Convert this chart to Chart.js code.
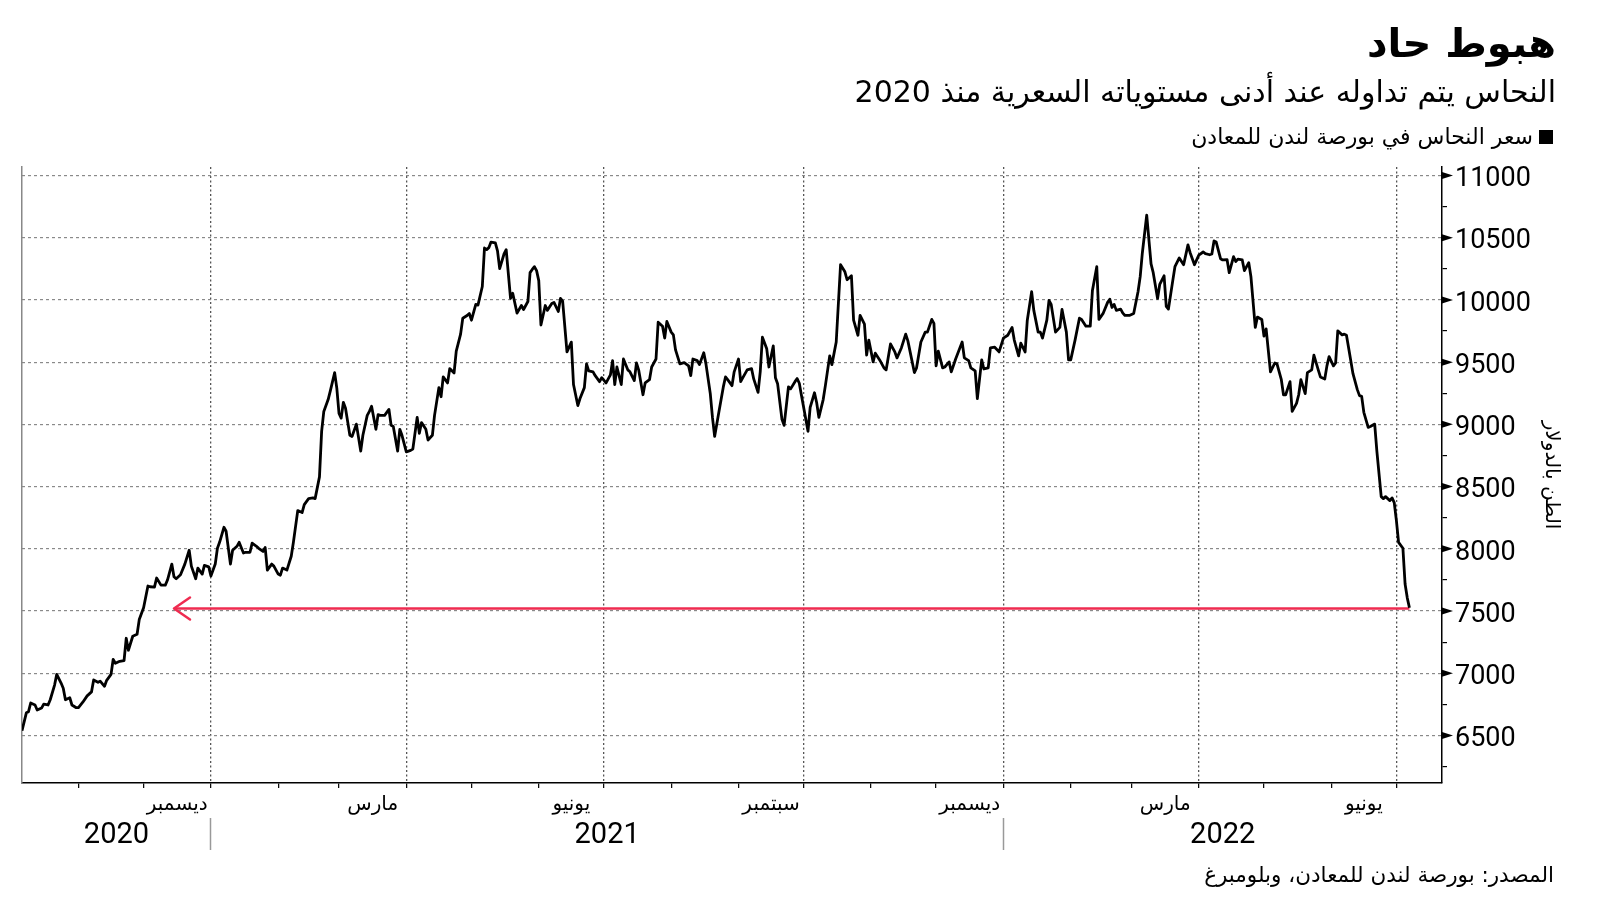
<!DOCTYPE html>
<html lang="ar">
<head>
    <meta charset="UTF-8">
    <title>هبوط حاد</title>
    <script src="https://cdn.jsdelivr.net/npm/chart.js"></script>
    <style>
        body { margin: 0; background: #fff; }
        .wrap { position: relative; width: 1600px; height: 901px; overflow: hidden; }
        canvas { position: absolute; left: 0; top: 0; }
        .txt {
            position: absolute;
            direction: rtl;
            font-family: "DejaVu Sans", sans-serif;
            color: #000;
            white-space: nowrap;
        }
        #title { right: 44px; top: 18px; font-size: 40px; line-height: 50px; font-weight: bold; }
        #subtitle { right: 44px; top: 74px; font-size: 30px; line-height: 36px; }
        #legend { right: 47px; top: 124px; font-size: 22px; line-height: 26px; display: flex; align-items: center; gap: 6px; }
        #legend .sq { width: 14px; height: 14px; background: #000; display: inline-block; }
        #source { right: 46px; top: 862px; font-size: 21.5px; line-height: 26px; }
    </style>
</head>
<body>
<div class="wrap">
    <canvas id="chart" width="1600" height="901"></canvas>
    <div id="title" class="txt">هبوط حاد</div>
    <div id="subtitle" class="txt">النحاس يتم تداوله عند أدنى مستوياته السعرية منذ 2020</div>
    <div id="legend" class="txt"><span class="sq"></span><span>سعر النحاس في بورصة لندن للمعادن</span></div>
    <div id="source" class="txt">المصدر: بورصة لندن للمعادن، وبلومبرغ</div>
</div>

<script>
    // days counted from 1 Jan 2021, prices in dollars per tonne
    const days = [
        -87, -85, -84, -83, -81, -80, -78, -77, -75, -74, -72, -71, -69, -68, -67, -65, -64, -62, -61, -59,
        -57, -55, -54, -52, -51, -49, -48, -46, -45, -44, -42, -40, -39, -38, -36, -34, -33, -31, -29, -28,
        -26, -25, -23, -21, -20, -18, -17, -16, -14, -12, -10, -9, -7, -6, -4, -3, -1, 0, 2, 3,
        4, 6, 7, 9, 10, 12, 13, 15, 16, 18, 19, 21, 22, 24, 25, 26, 28, 29, 31, 32,
        33, 35, 37, 38, 39, 40, 42, 43, 45, 47, 48, 50, 51, 52, 54, 55, 57, 58, 59, 60,
        61, 62, 64, 65, 67, 69, 70, 72, 73, 74, 76, 77, 78, 80, 82, 83, 84, 86, 87, 88,
        90, 92, 93, 95, 96, 97, 99, 100, 102, 103, 105, 106, 107, 109, 110, 112, 113, 115, 116, 118,
        119, 120, 122, 123, 125, 126, 127, 128, 129, 131, 132, 133, 135, 136, 138, 139, 141, 143, 144, 146,
        147, 148, 149, 150, 151, 152, 154, 155, 157, 158, 160, 161, 162, 164, 166, 167, 169, 170, 172, 173,
        174, 176, 177, 179, 180, 182, 184, 185, 186, 187, 189, 190, 192, 193, 195, 196, 197, 199, 200, 202,
        203, 205, 206, 208, 209, 210, 212, 213, 214, 216, 218, 220, 221, 222, 224, 225, 227, 228, 230, 231,
        232, 234, 236, 237, 238, 240, 241, 243, 244, 245, 247, 249, 250, 252, 253, 254, 256, 257, 259, 260,
        261, 263, 264, 266, 267, 269, 270, 271, 272, 275, 276, 278, 279, 280, 282, 283, 285, 286, 288, 290,
        292, 293, 295, 296, 298, 299, 301, 302, 303, 305, 306, 308, 310, 311, 313, 315, 316, 318, 320, 321,
        324, 325, 327, 329, 330, 332, 333, 334, 335, 337, 338, 340, 341, 343, 346, 347, 349, 350, 352, 353,
        355, 356, 358, 359, 361, 363, 365, 367, 369, 370, 372, 373, 375, 376, 378, 379, 381, 382, 383, 385,
        386, 387, 389, 391, 392, 394, 395, 396, 398, 400, 401, 403, 405, 406, 408, 409, 411, 413, 414, 415,
        416, 417, 419, 420, 421, 423, 425, 427, 428, 429, 431, 433, 434, 436, 437, 439, 440, 441, 443, 444,
        446, 448, 450, 451, 453, 455, 457, 458, 460, 461, 462, 463, 465, 466, 468, 469, 471, 472, 473, 475,
        476, 478, 479, 481, 482, 484, 485, 486, 488, 490, 491, 493, 494, 495, 497, 498, 500, 501, 502, 504,
        505, 507, 508, 510, 511, 513, 514, 515, 517, 518, 519, 521, 522, 523, 524, 526, 528, 529, 530, 531,
        533, 534, 536, 537, 539, 540, 541, 543, 544, 545, 546, 547, 549, 550, 551, 552
    ];
    const prices = [
        6538, 6682, 6691, 6761, 6745, 6704, 6720, 6752, 6745, 6787, 6905, 6991, 6921, 6879, 6787, 6803, 6745, 6723, 6723, 6767,
        6818, 6850, 6946, 6927, 6936, 6895, 6943, 6991, 7112, 7080, 7096, 7102, 7281, 7185, 7297, 7313, 7431, 7526, 7701, 7695,
        7692, 7765, 7708, 7708, 7749, 7877, 7775, 7759, 7791, 7877, 7988, 7861, 7759, 7845, 7797, 7867, 7855, 7781, 7877, 8004,
        8052, 8173, 8141, 7877, 7988, 8020, 8052, 7966, 7972, 7972, 8045, 8020, 8004, 7979, 8010, 7829, 7877, 7861, 7797, 7788,
        7845, 7829, 7940, 8052, 8180, 8307, 8291, 8355, 8403, 8409, 8403, 8578, 8944, 9104, 9199, 9269, 9416, 9289, 9088, 9050,
        9177, 9129, 8912, 8903, 9002, 8785, 8912, 9072, 9104, 9145, 8960, 9078, 9072, 9072, 9120, 8992, 8983, 8785, 8960, 8912,
        8779, 8791, 8801, 9056, 8928, 9014, 8960, 8874, 8912, 9072, 9295, 9222, 9381, 9333, 9448, 9413, 9588, 9725, 9853, 9875,
        9891, 9837, 9964, 9958, 10108, 10417, 10404, 10420, 10465, 10458, 10394, 10251, 10369, 10404, 10012, 10053, 9894, 9955, 9923, 9987,
        10219, 10245, 10267, 10235, 10155, 9798, 9955, 9916, 9971, 9980, 9907, 10012, 9990, 9582, 9661, 9320, 9151, 9208, 9295, 9486,
        9429, 9422, 9391, 9343, 9375, 9333, 9397, 9512, 9320, 9461, 9320, 9525, 9438, 9422, 9352, 9493, 9438, 9238, 9333, 9359,
        9461, 9525, 9821, 9789, 9693, 9827, 9741, 9719, 9598, 9486, 9496, 9470, 9391, 9525, 9512, 9480, 9575, 9486, 9247, 9056,
        8903, 9104, 9301, 9381, 9359, 9311, 9422, 9525, 9343, 9375, 9438, 9448, 9365, 9257, 9422, 9700, 9607, 9461, 9630, 9375,
        9327, 9040, 8992, 9301, 9285, 9343, 9368, 9330, 9231, 8944, 9136, 9254, 9174, 9056, 9199, 9311, 9550, 9480, 9662, 10283,
        10226, 10162, 10194, 9837, 9716, 9875, 9805, 9556, 9677, 9502, 9572, 9518, 9454, 9438, 9646, 9582, 9534, 9614, 9725, 9671,
        9416, 9454, 9662, 9741, 9741, 9843, 9811, 9470, 9588, 9454, 9461, 9502, 9422, 9525, 9662, 9534, 9512, 9454, 9429, 9206,
        9518, 9445, 9454, 9614, 9620, 9582, 9693, 9716, 9779, 9677, 9550, 9652, 9582, 9837, 10066, 9916, 9741, 9741, 9693, 9837,
        9996, 9964, 9741, 9779, 9923, 9741, 9518, 9518, 9677, 9853, 9843, 9789, 9789, 10076, 10267, 9843, 9894, 9980, 10006, 9939,
        9964, 9916, 9926, 9894, 9875, 9875, 9891, 10066, 10187, 10379, 10681, 10289, 10219, 10012, 10124, 10194, 9948, 9926, 10155, 10267,
        10337, 10283, 10442, 10379, 10283, 10360, 10385, 10372, 10363, 10369, 10474, 10465, 10331, 10321, 10324, 10219, 10347, 10309, 10328, 10321,
        10235, 10299, 10187, 9779, 9862, 9843, 9709, 9767, 9422, 9493, 9486, 9359, 9238, 9238, 9343, 9104, 9168, 9238, 9359, 9247,
        9416, 9438, 9556, 9438, 9381, 9365, 9470, 9544, 9470, 9493, 9751, 9719, 9725, 9716, 9614, 9407, 9279, 9231, 9225, 9097,
        8976, 8983, 9002, 8785, 8419, 8403, 8419, 8387, 8409, 8371, 8227, 8052, 8004, 7717, 7606, 7526
    ];

    // calendar marks, same day count
    const monthStarts = [-61, -31, 0, 31, 59, 90, 120, 151, 181, 212, 243, 273, 304, 334, 365, 396, 424, 455, 485, 516, 546];
    const quarterStarts = [0, 90, 181, 273, 365, 455, 546];
    const monthMids = [-15.5, 74.5, 166, 258, 349.5, 439.5, 531];
    const monthLabels = ['ديسمبر', 'مارس', 'يونيو', 'سبتمبر', 'ديسمبر', 'مارس', 'يونيو'];
    const yearMids = [-43.5, 182.5, 466];
    const yearLabels = ['2020', '2021', '2022'];
    const yearBreaks = [0, 365];

    const yMajor = [6500, 7000, 7500, 8000, 8500, 9000, 9500, 10000, 10500, 11000];
    const yMinor = [6250, 6750, 7250, 7750, 8250, 8750, 9250, 9750, 10250, 10750];

    // red marker back to the 2020 level
    const arrowLevel = 7520;
    const arrowFrom = -17;
    const arrowTo = 552;

    const xMin = -87, xMax = 567;
    const yMin = 6118, yMax = 11068;

    const arrowColor = '#ef2b50';

    const points = days.map((d, i) => ({ x: d, y: prices[i] }));

    const arrowHead = {
        id: 'arrowHead',
        afterDatasetsDraw(chart) {
            const { ctx, scales: { x, y } } = chart;
            const px = x.getPixelForValue(arrowFrom);
            const py = y.getPixelForValue(arrowLevel);
            ctx.save();
            ctx.strokeStyle = arrowColor;
            ctx.lineWidth = 2.5;
            ctx.lineCap = 'round';
            ctx.lineJoin = 'round';
            ctx.beginPath();
            ctx.moveTo(px + 16, py - 11);
            ctx.lineTo(px, py);
            ctx.lineTo(px + 16, py + 11);
            ctx.stroke();
            ctx.restore();
        }
    };

    // little pointers at the labelled ticks of the right axis
    const tickMarkers = {
        id: 'tickMarkers',
        afterDraw(chart) {
            const { ctx, chartArea, scales: { y } } = chart;
            ctx.save();
            ctx.fillStyle = '#000';
            yMajor.forEach(v => {
                const py = y.getPixelForValue(v);
                ctx.beginPath();
                ctx.moveTo(chartArea.right, py - 3.5);
                ctx.lineTo(chartArea.right + 11, py);
                ctx.lineTo(chartArea.right, py + 3.5);
                ctx.closePath();
                ctx.fill();
            });
            ctx.restore();
        }
    };

    const setTicks = list => scale => { scale.ticks = list.map(v => ({ value: v })); };
    const setHeight = h => scale => { scale.height = h; };

    Chart.defaults.font.family = '"DejaVu Sans", sans-serif';
    Chart.defaults.color = '#000';

    new Chart(document.getElementById('chart'), {
        type: 'line',
        data: {
            datasets: [{
                data: points,
                borderColor: '#000',
                borderWidth: 2.8,
                pointRadius: 0,
                tension: 0,
                borderJoinStyle: 'round',
                xAxisID: 'x',
                yAxisID: 'y'
            }, {
                data: [{ x: arrowFrom, y: arrowLevel }, { x: arrowTo, y: arrowLevel }],
                borderColor: arrowColor,
                borderWidth: 2.5,
                pointRadius: 0,
                xAxisID: 'x',
                yAxisID: 'y'
            }]
        },
        options: {
            responsive: false,
            animation: false,
            devicePixelRatio: 1,
            events: [],
            layout: { padding: { left: 22, top: 167, right: 0, bottom: 0 } },
            plugins: { legend: { display: false }, tooltip: { enabled: false } },
            scales: {
                x: {
                    type: 'linear', position: 'bottom', weight: 0,
                    min: xMin, max: xMax,
                    afterBuildTicks: setTicks(monthStarts),
                    afterFit: setHeight(10),
                    ticks: { display: false, autoSkip: false },
                    grid: {
                        color: c => quarterStarts.includes(c.tick.value) ? '#555' : 'rgba(0,0,0,0)',
                        lineWidth: 1.3,
                        tickColor: '#000',
                        tickLength: 5,
                        tickWidth: 1.2
                    },
                    border: { display: true, color: '#000', width: 1.5, dash: [2, 2.5] }
                },
                xm: {
                    type: 'linear', position: 'bottom', weight: 1,
                    min: xMin, max: xMax,
                    afterBuildTicks: setTicks(monthMids),
                    afterFit: setHeight(25),
                    ticks: {
                        autoSkip: false, maxRotation: 0, padding: 0,
                        font: { size: 20 },
                        callback: (v, i) => monthLabels[i]
                    },
                    grid: { display: false, drawTicks: false },
                    border: { display: false }
                },
                xs: {
                    type: 'linear', position: 'bottom', weight: 2,
                    min: xMin, max: xMax,
                    afterBuildTicks: setTicks(yearBreaks),
                    afterFit: setHeight(0),
                    ticks: { display: false, autoSkip: false },
                    grid: { drawOnChartArea: false, tickLength: 32, tickColor: '#999', tickWidth: 1.5 },
                    border: { display: false }
                },
                xy: {
                    type: 'linear', position: 'bottom', weight: 3,
                    min: xMin, max: xMax,
                    afterBuildTicks: setTicks(yearMids),
                    afterFit: setHeight(83),
                    ticks: {
                        autoSkip: false, maxRotation: 0, padding: 0,
                        font: { family: 'Roboto', size: 29 },
                        callback: (v, i) => yearLabels[i]
                    },
                    grid: { display: false, drawTicks: false },
                    border: { display: false }
                },
                y: {
                    type: 'linear', position: 'right',
                    min: yMin, max: yMax,
                    afterBuildTicks: setTicks(yMinor.concat(yMajor).sort((a, b) => a - b)),
                    afterFit: scale => { scale.width = 158; },
                    ticks: {
                        autoSkip: false,
                        padding: 8,
                        labelOffset: 4,
                        font: { family: 'Roboto', size: 27 },
                        callback: v => yMajor.includes(v) ? String(v) : ''
                    },
                    grid: {
                        color: c => yMajor.includes(c.tick.value) ? '#8a8a8a' : 'rgba(0,0,0,0)',
                        lineWidth: 1.2,
                        tickColor: c => yMajor.includes(c.tick.value) ? 'rgba(0,0,0,0)' : '#000',
                        tickLength: 5,
                        tickWidth: 1.2
                    },
                    border: { display: true, color: '#000', width: 1.5, dash: [3, 3] },
                    title: {
                        display: true,
                        text: 'الطن بالدولار',
                        font: { size: 20 },
                        padding: { top: 37, bottom: 0 }
                    }
                },
                yl: {
                    type: 'linear', position: 'left',
                    min: yMin, max: yMax,
                    afterFit: scale => { scale.width = 0; },
                    ticks: { display: false },
                    grid: { display: false },
                    border: { display: true, color: '#888', width: 1.5 }
                }
            }
        },
        plugins: [arrowHead, tickMarkers]
    });
</script>
</body>
</html>
